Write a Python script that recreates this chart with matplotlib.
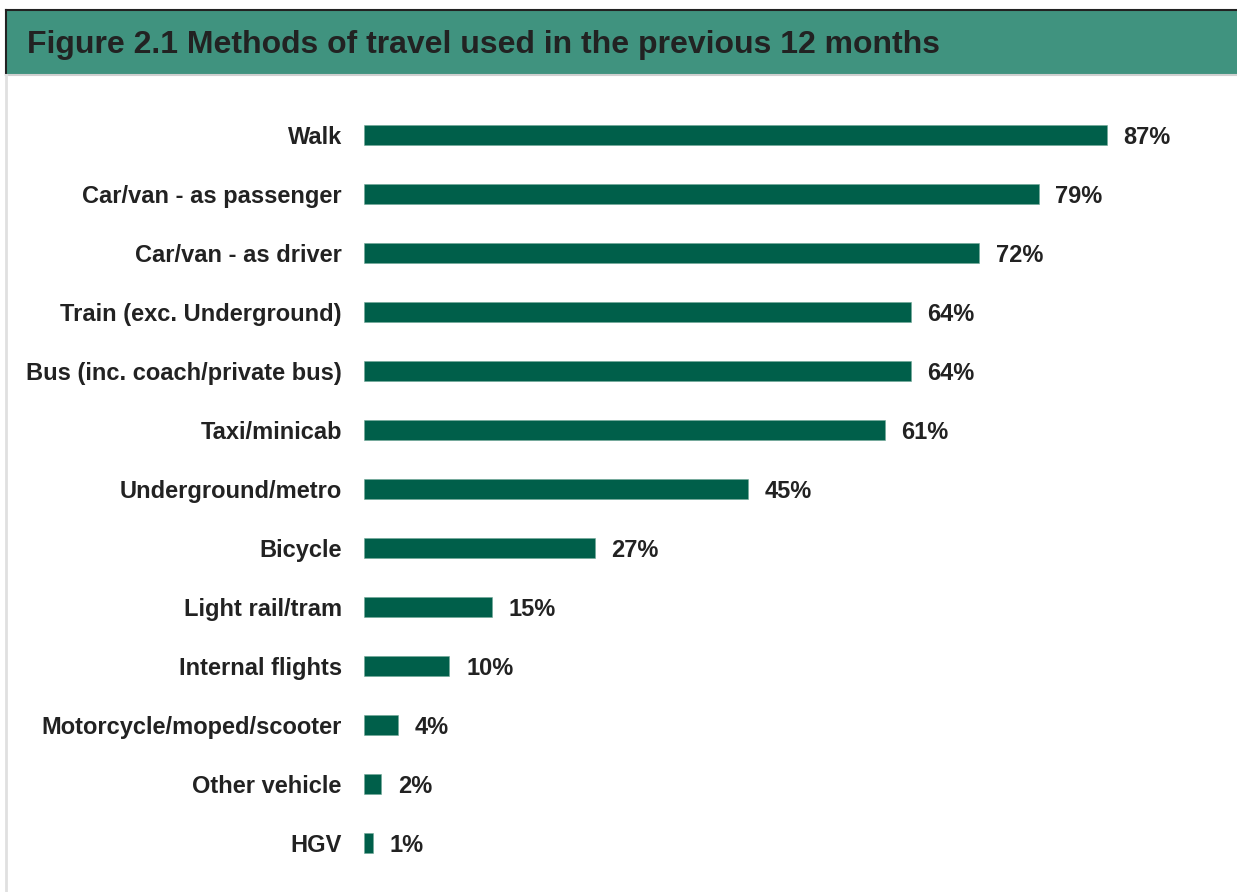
import matplotlib.pyplot as plt
from matplotlib.patches import Rectangle
from matplotlib.lines import Line2D

plt.rcParams['font.family'] = ['Liberation Sans', 'DejaVu Sans']

categories = [
    'Walk',
    'Car/van - as passenger',
    'Car/van - as driver',
    'Train (exc. Underground)',
    'Bus (inc. coach/private bus)',
    'Taxi/minicab',
    'Underground/metro',
    'Bicycle',
    'Light rail/tram',
    'Internal flights',
    'Motorcycle/moped/scooter',
    'Other vehicle',
    'HGV',
]
values = [87, 79, 72, 64, 64, 61, 45, 27, 15, 10, 4, 2, 1]

title = 'Figure 2.1 Methods of travel used in the previous 12 months'
bar_color = '#005f4a'
header_color = '#40937f'
text_color = '#222222'

W, H = 1237, 892
fig = plt.figure(figsize=(W / 100, H / 100), dpi=100)

# header band with its borders
fig.patches.append(Rectangle((6 / W, 1 - 75 / H), 1 - 6 / W, 65 / H,
                             transform=fig.transFigure, facecolor=header_color,
                             edgecolor='none', zorder=0))
fig.lines.append(Line2D([6 / W, 1], [1 - 10 / H, 1 - 10 / H],
                        transform=fig.transFigure, color='#222222', lw=1.5))
fig.lines.append(Line2D([6 / W, 6 / W], [1 - 10 / H, 1 - 75 / H],
                        transform=fig.transFigure, color='#222222', lw=1.5))
fig.lines.append(Line2D([6 / W, 1], [1 - 75 / H, 1 - 75 / H],
                        transform=fig.transFigure, color='#d0d0d0', lw=1.5))
fig.lines.append(Line2D([6 / W, 6 / W], [1 - 75 / H, 0],
                        transform=fig.transFigure, color='#e0e0e0', lw=2))
fig.text(27 / W, 1 - 42 / H, title, fontsize=23, fontweight='bold',
         color=text_color, va='center_baseline', ha='left')

# bar area
left, right = 364, 1218
top, bottom = 105.5, 872.5
ax = fig.add_axes([left / W, 1 - bottom / H, (right - left) / W, (bottom - top) / H])

y = list(range(len(categories)))
ax.barh(y, values, height=0.34, color=bar_color, edgecolor='#6fa896', linewidth=0.4)
ax.set_xlim(0, 100)
ax.set_ylim(len(categories) - 0.5, -0.5)
ax.set_yticks(y)
ax.set_yticklabels(categories, fontsize=17, fontweight='bold', color=text_color,
                   va='center_baseline')
ax.tick_params(axis='y', length=0, pad=16)
ax.set_xticks([])
for s in ax.spines.values():
    s.set_visible(False)

for yi, v in zip(y, values):
    ax.annotate(f'{v}%', (v, yi), xytext=(12, 0), textcoords='offset points',
                va='center_baseline', ha='left', fontsize=17, fontweight='bold',
                color=text_color)

fig.savefig('out.png', dpi=100, facecolor='white')
